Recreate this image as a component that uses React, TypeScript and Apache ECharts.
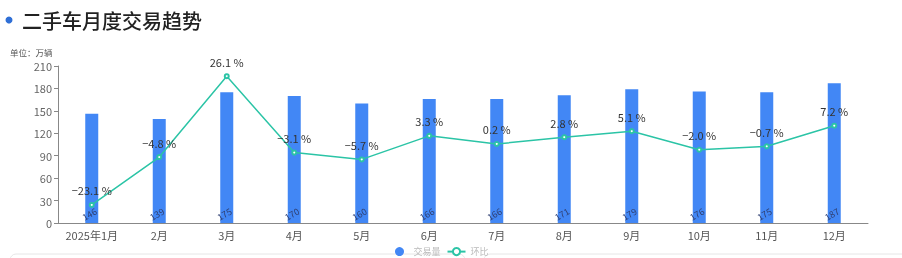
import React, { useEffect, useRef } from "react";
import * as echarts from "echarts";

const months = ["2025年1月", "2月", "3月", "4月", "5月", "6月", "7月", "8月", "9月", "10月", "11月", "12月"];
const volume = [146, 139, 175, 170, 160, 166, 166, 171, 179, 176, 175, 187];
const momPct = [-23.1, -4.8, 26.1, -3.1, -5.7, 3.3, 0.2, 2.8, 5.1, -2.0, -0.7, 7.2];
const yTicks = { min: 0, max: 210, interval: 30 };

const fmtPct = (v: number) => (v < 0 ? "\u2212" : "") + Math.abs(v).toFixed(1) + " %";

export default function App() {
  const ref = useRef<HTMLDivElement>(null);
  useEffect(() => {
    if (!ref.current) return;
    const chart = echarts.init(ref.current, null, { renderer: "svg" });
    const font = "'Noto Sans CJK SC', 'Noto Sans', sans-serif";
    chart.setOption({
      animation: false,
      textStyle: { fontFamily: font },
      grid: { left: 58, right: 34, top: 66, bottom: 35 },
      graphic: [
        { type: "circle", shape: { cx: 9, cy: 20, r: 3.5 }, style: { fill: "#2F6FD6" } },
        {
          type: "text",
          x: 22,
          y: 20,
          style: { text: "二手车月度交易趋势", fontSize: 20, fontWeight: 500, fill: "#222", verticalAlign: "middle", fontFamily: font },
        },
        {
          type: "text",
          x: 10,
          y: 52,
          style: { text: "单位：万辆", fontSize: 8.5, fill: "#555", verticalAlign: "middle", fontFamily: font },
        },
        { type: "rect", shape: { x: 10, y: 254, width: 455, height: 20, r: 6 }, style: { fill: "none", stroke: "#e6e6e6", lineWidth: 1 } },
        { type: "rect", shape: { x: 484, y: 254, width: 430, height: 20, r: 6 }, style: { fill: "none", stroke: "#e6e6e6", lineWidth: 1 } },
      ],
      legend: {
        left: 390,
        top: 242,
        itemGap: 6,
        itemWidth: 18,
        itemHeight: 9,
        textStyle: { fontSize: 9, color: "#bbb", fontFamily: font },
        data: [
          { name: "交易量", icon: "circle" },
          { name: "环比" },
        ],
      },
      xAxis: {
        type: "category",
        data: months,
        axisLine: { lineStyle: { color: "#888" } },
        axisTick: { length: 4, lineStyle: { color: "#888" } },
        axisLabel: { interval: 0, fontSize: 11, color: "#555", margin: 6 },
      },
      yAxis: [
        {
          type: "value",
          min: yTicks.min,
          max: yTicks.max,
          interval: yTicks.interval,
          axisLine: { show: true, lineStyle: { color: "#888" } },
          axisTick: { show: true, length: 4, lineStyle: { color: "#888" } },
          axisLabel: { fontSize: 11, color: "#666", margin: 6 },
          splitLine: { show: false },
        },
        {
          type: "value",
          min: -30,
          max: 30,
          interval: 10,
          show: false,
          splitLine: { show: false },
        },
      ],
      series: [
        {
          name: "交易量",
          type: "bar",
          data: volume,
          barWidth: 13,
          itemStyle: { color: "#4287F5" },
          label: {
            show: true,
            position: "insideBottom",
            rotate: 30,
            distance: 5,
            fontSize: 9,
            color: "#2f3f70",
          },
        },
        {
          name: "环比",
          type: "line",
          yAxisIndex: 1,
          data: momPct,
          symbol: "emptyCircle",
          symbolSize: 4,
          lineStyle: { color: "#2BC4A6", width: 1.5 },
          itemStyle: { color: "#2BC4A6", borderColor: "#2BC4A6" },
          label: {
            show: true,
            position: "top",
            distance: 6,
            fontSize: 11,
            color: "#333",
            formatter: (p: any) => fmtPct(p.value),
          },
          z: 3,
        },
      ],
    });
    return () => chart.dispose();
  }, []);
  return <div ref={ref} style={{ position: "fixed", left: 0, top: 0, width: 902, height: 258 }} />;
}
